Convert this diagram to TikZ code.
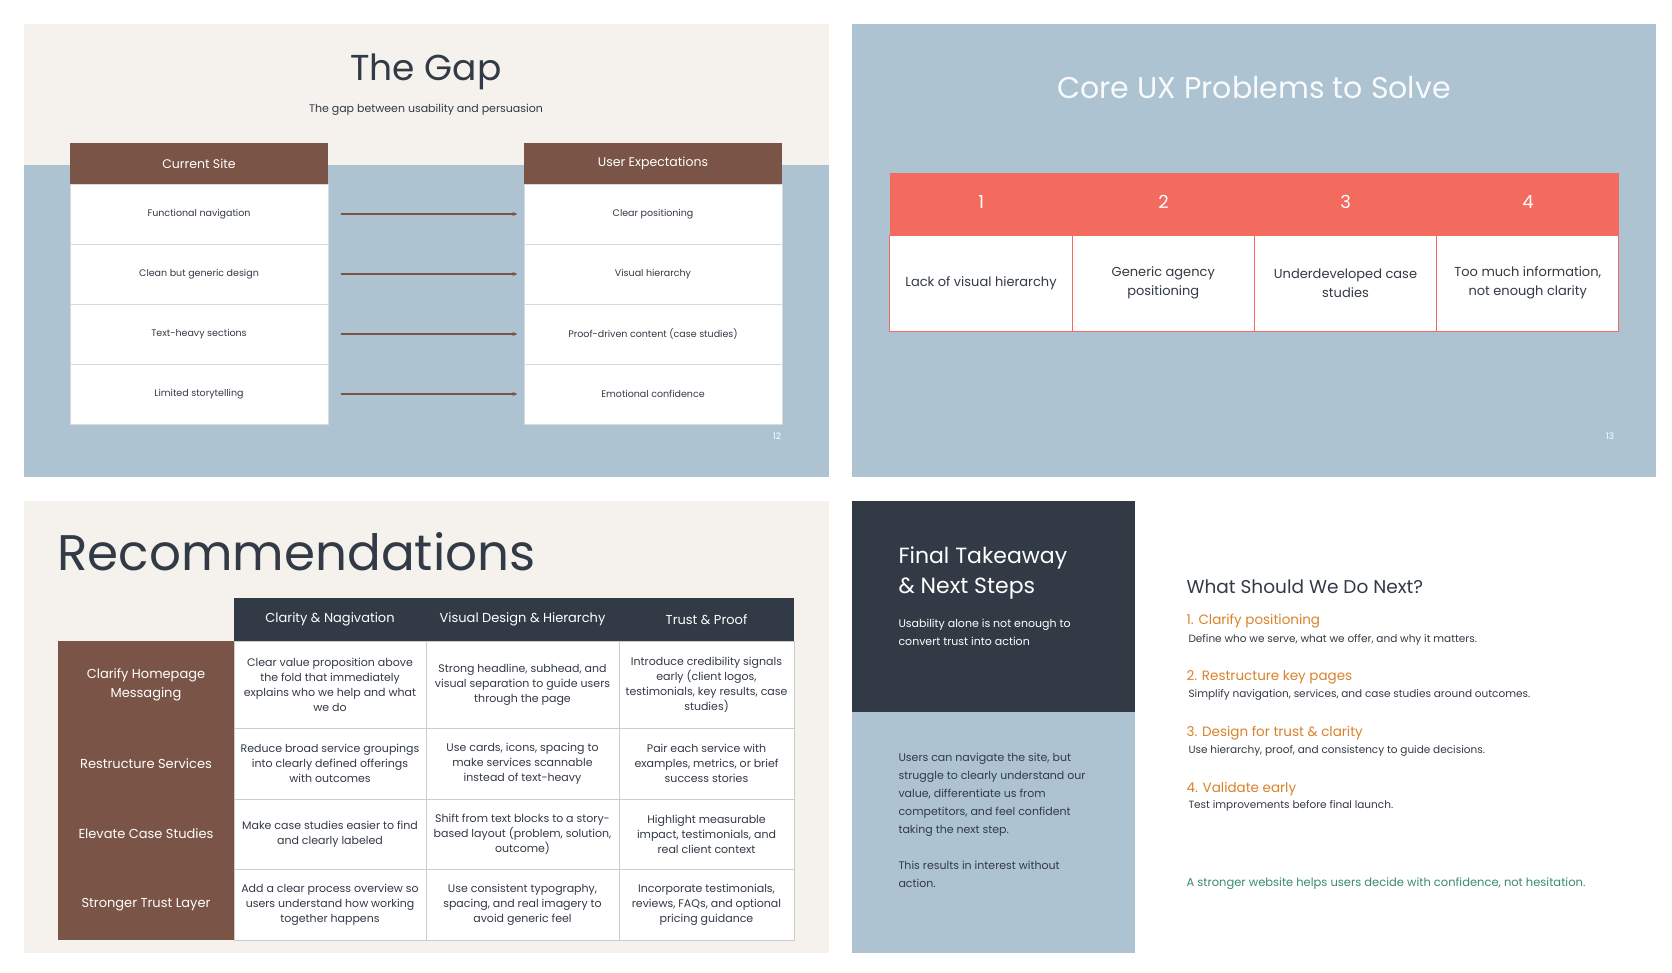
\documentclass[tikz,border=0pt]{standalone}
\usepackage{fontspec}
\setmainfont{Poppins}
\usetikzlibrary{positioning,arrows.meta}

\definecolor{beige}{HTML}{F5F2ED}
\definecolor{slate}{HTML}{ADC3D2}
\definecolor{brownish}{HTML}{7A5446}
\definecolor{ink}{HTML}{323A45}
\definecolor{coral}{HTML}{F26B5E}
\definecolor{amber}{HTML}{D9822B}
\definecolor{teal}{HTML}{3A8A73}

\tikzset{
  cell/.style={fill=white, draw=black!15, line width=1pt, minimum height=#1, inner sep=0pt, align=center, text=ink},
  gaphead/.style={fill=brownish, text=white, minimum width=258pt, minimum height=41pt, inner sep=0pt, font=\fontsize{12.5}{14}\selectfont},
  gapcell/.style={cell=60pt, minimum width=258pt, font=\fontsize{9.5}{11}\selectfont},
  gaparrow/.style={-{Stealth[length=5pt,width=4pt]}, brownish, line width=1.3pt},
  reccell/.style={cell=#1, draw=black!20, font=\fontsize{11}{15}\selectfont},
  rowlabel/.style={fill=brownish, text=white, minimum width=176pt, minimum height=#1, inner sep=0pt, align=center, font=\fontsize{13}{19}\selectfont},
  problem/.style={fill=white, draw=coral, line width=1pt, minimum width=182.25pt, minimum height=96pt, inner sep=0pt,
            align=center, text=ink, font=\fontsize{13}{19}\selectfont},
  nextstep/.style={anchor=west, text=amber, font=\fontsize{13.5}{16}\selectfont},
  stepnote/.style={anchor=west, text=ink, font=\fontsize{10.5}{13}\selectfont}
}

\begin{document}
\begin{tikzpicture}[x=1pt, y=-1pt]

    % --- Page ---
    \fill[white] (0,0) rectangle (1672,972);
    \useasboundingbox (0,0) rectangle (1672,972);

    % --- Slide 12: The Gap ---
    \fill[beige] (24,24) rectangle (829,165);
    \fill[slate] (24,165) rectangle (829,477);
    \node[text=ink, font=\fontsize{36}{40}\selectfont] (gaptitle) at (426,72) {The Gap};
    \node[text=ink, font=\fontsize{11}{13}\selectfont] (gapsub) at (426,110) {The gap between usability and persuasion};

    \node[gaphead] (curhead) at (199,163.5) {Current Site};
    \node[gaphead] (exphead) at (653,163.5) {User Expectations};
    \foreach \i/\cur/\want in {1/Functional navigation/Clear positioning,
                               2/Clean but generic design/Visual hierarchy,
                               3/Text-heavy sections/Proof-driven content (case studies),
                               4/Limited storytelling/Emotional confidence} {
      \node[gapcell] (cur\i) at (199,154+60*\i) {\cur};
      \node[gapcell] (exp\i) at (653,154+60*\i) {\want};
      \draw[gaparrow] ([xshift=12pt]cur\i.east) -- ([xshift=-6pt]exp\i.west);
    }
    \node[text=white, font=\fontsize{9}{10}\selectfont] (page12) at (777,436) {12};

    % --- Slide 13: Core UX Problems ---
    \fill[slate] (852,24) rectangle (1656,477);
    \node[text=white!92!slate, font=\fontsize{30}{34}\selectfont] (coretitle) at (1254,88) {Core UX Problems to Solve};
    \fill[coral] (890,173) rectangle (1619,235);
    \foreach \i in {1,...,4}
      \node[text=white, font=\fontsize{18}{20}\selectfont] (num\i) at (890+182.25*\i-91,202) {\i};
    \node[problem] (prob1) at (981,283) {Lack of visual hierarchy};
    \node[problem] (prob2) at (1163.25,283) {Generic agency\\positioning};
    \node[problem] (prob3) at (1345.5,283) {Underdeveloped case\\studies};
    \node[problem] (prob4) at (1527.75,283) {Too much information,\\not enough clarity};
    \node[text=white, font=\fontsize{9}{10}\selectfont] (page13) at (1610,436) {13};

    % --- Slide 14: Recommendations ---
    \fill[beige] (24,501) rectangle (829,953);
    \node[anchor=west, text=ink, font=\fontsize{50}{56}\selectfont] (rectitle) at (54,552) {Recommendations};
    \fill[ink] (234,598) rectangle (794,641);
    \node[text=white, font=\fontsize{13}{15}\selectfont] (colA) at (330,619.5) {Clarity \& Nagivation};
    \node[text=white, font=\fontsize{13}{15}\selectfont] (colB) at (522.5,619.5) {Visual Design \& Hierarchy};
    \node[text=white, font=\fontsize{13}{15}\selectfont] (colC) at (706.5,619.5) {Trust \& Proof};

    \node[rowlabel=87pt] (rowA) at (146,684.5) {Clarify Homepage\\Messaging};
    \node[rowlabel=71pt] (rowB) at (146,763.5) {Restructure Services};
    \node[rowlabel=70pt] (rowC) at (146,834) {Elevate Case Studies};
    \node[rowlabel=71pt] (rowD) at (146,904.5) {Stronger Trust Layer};

    \node[reccell=87pt, minimum width=192pt] (a1) at (330,684.5) {Clear value proposition above\\the fold that immediately\\explains who we help and what\\we do};
    \node[reccell=87pt, minimum width=193pt] (a2) at (522.5,684.5) {Strong headline, subhead, and\\visual separation to guide users\\through the page};
    \node[reccell=87pt, minimum width=175pt] (a3) at (706.5,684.5) {Introduce credibility signals\\early (client logos,\\testimonials, key results, case\\studies)};
    \node[reccell=71pt, minimum width=192pt] (b1) at (330,763.5) {Reduce broad service groupings\\into clearly defined offerings\\with outcomes};
    \node[reccell=71pt, minimum width=193pt] (b2) at (522.5,763.5) {Use cards, icons, spacing to\\make services scannable\\instead of text-heavy};
    \node[reccell=71pt, minimum width=175pt] (b3) at (706.5,763.5) {Pair each service with\\examples, metrics, or brief\\success stories};
    \node[reccell=70pt, minimum width=192pt] (c1) at (330,834) {Make case studies easier to find\\and clearly labeled};
    \node[reccell=70pt, minimum width=193pt] (c2) at (522.5,834) {Shift from text blocks to a story-\\based layout (problem, solution,\\outcome)};
    \node[reccell=70pt, minimum width=175pt] (c3) at (706.5,834) {Highlight measurable\\impact, testimonials, and\\real client context};
    \node[reccell=71pt, minimum width=192pt] (d1) at (330,904.5) {Add a clear process overview so\\users understand how working\\together happens};
    \node[reccell=71pt, minimum width=193pt] (d2) at (522.5,904.5) {Use consistent typography,\\spacing, and real imagery to\\avoid generic feel};
    \node[reccell=71pt, minimum width=175pt] (d3) at (706.5,904.5) {Incorporate testimonials,\\reviews, FAQs, and optional\\pricing guidance};

    % --- Slide 15: Final Takeaway ---
    \fill[ink] (852,501) rectangle (1135,712);
    \fill[slate] (852,712) rectangle (1135,953);
    \node[anchor=north west, align=left, text=white, font=\fontsize{22}{30}\selectfont] (fintitle) at (895,543) {Final Takeaway\\\& Next Steps};
    \node[anchor=north west, align=left, text=white, font=\fontsize{11}{18}\selectfont] (finsub) at (895,616) {Usability alone is not enough to\\convert trust into action};
    \node[anchor=north west, align=left, text=ink, font=\fontsize{11}{18}\selectfont] (finbody) at (895,750) {Users can navigate the site, but\\struggle to clearly understand our\\value, differentiate us from\\competitors, and feel confident\\taking the next step.\\[18pt]This results in interest without\\action.};

    \node[anchor=west, text=ink, font=\fontsize{18.5}{22}\selectfont] (nexttitle) at (1183,587) {What Should We Do Next?};
    \foreach \i/\head/\note in {1/1. Clarify positioning/{Define who we serve, what we offer, and why it matters.},
                                2/2. Restructure key pages/{Simplify navigation, services, and case studies around outcomes.},
                                3/3. Design for trust \& clarity/{Use hierarchy, proof, and consistency to guide decisions.},
                                4/4. Validate early/{Test improvements before final launch.}} {
      \node[nextstep] (step\i) at (1183,565+56*\i) {\head};
      \node[stepnote] (note\i) at (1185,584+55.5*\i) {\note};
    }
    \node[anchor=west, text=teal, font=\fontsize{11.5}{14}\selectfont] (closing) at (1183,884) {A stronger website helps users decide with confidence, not hesitation.};

\end{tikzpicture}
\end{document}
